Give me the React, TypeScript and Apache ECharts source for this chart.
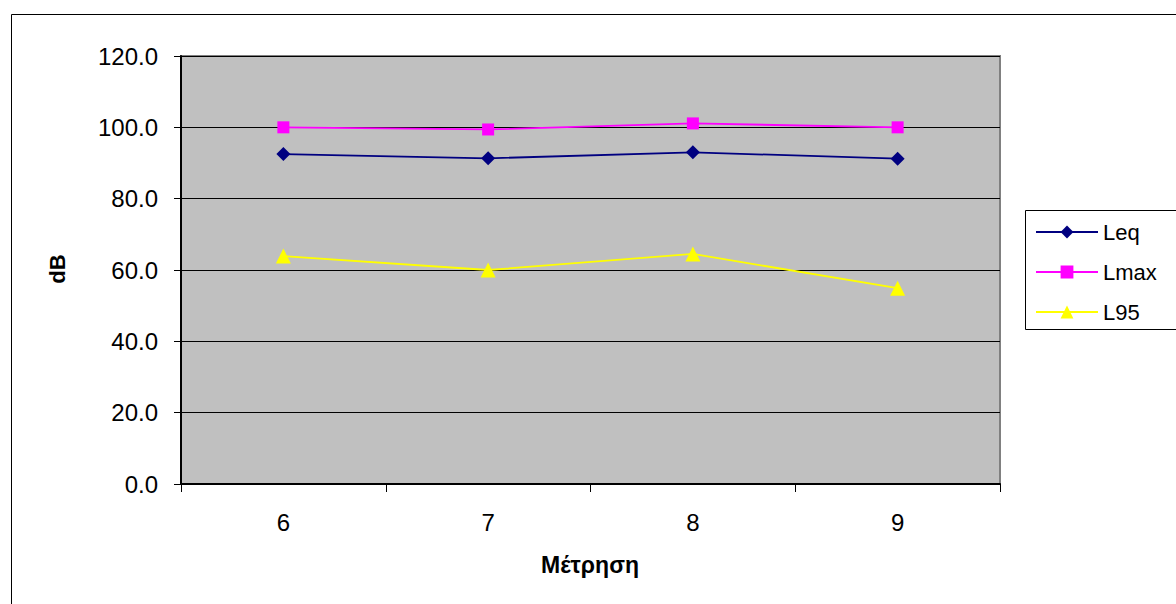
import React, { useEffect, useRef } from "react";
import * as echarts from "echarts";

// Measurement numbers along the x axis
const categories = ["6", "7", "8", "9"];

// Sound levels in dB per measurement
const leq = [92.5, 91.3, 93.0, 91.2];
const lmax = [100.0, 99.4, 101.1, 100.0];
const l95 = [63.9, 60.0, 64.5, 54.9];

const yTicks = { min: 0, max: 120, interval: 20 };

const FONT = "'Liberation Sans', Arial, sans-serif";

export default function App() {
  const ref = useRef<HTMLDivElement>(null);

  useEffect(() => {
    if (!ref.current) return;
    const chart = echarts.init(ref.current, null, { renderer: "svg" });

    const lineSeries = (name: string, data: number[], color: string, symbol: string, size: number) => ({
      name,
      type: "line",
      data,
      symbol,
      symbolSize: size,
      showAllSymbol: true,
      lineStyle: { color, width: 1.8 },
      itemStyle: { color, borderWidth: 0 },
      emphasis: { disabled: true },
    });

    chart.setOption({
      animation: false,
      backgroundColor: "#ffffff",
      textStyle: { fontFamily: FONT },
      grid: {
        left: 181,
        right: 176,
        top: 56,
        bottom: 120,
        show: true,
        backgroundColor: "#c0c0c0",
        borderColor: "#808080",
        borderWidth: 2,
      },
      xAxis: {
        type: "category",
        data: categories,
        boundaryGap: true,
        axisLine: { lineStyle: { color: "#000000", width: 2 } },
        axisTick: { show: true, alignWithLabel: false, length: 8, lineStyle: { color: "#000000", width: 1 } },
        axisLabel: { color: "#000000", fontSize: 24, margin: 26, fontFamily: FONT },
        splitLine: { show: false },
      },
      yAxis: {
        type: "value",
        min: yTicks.min,
        max: yTicks.max,
        interval: yTicks.interval,
        axisLine: { show: true, lineStyle: { color: "#000000", width: 2 } },
        axisTick: { show: true, length: 7, lineStyle: { color: "#000000", width: 1 } },
        axisLabel: {
          color: "#000000",
          fontSize: 24,
          margin: 23,
          fontFamily: FONT,
          formatter: (v: number) => v.toFixed(1),
        },
        splitLine: { show: true, lineStyle: { color: "#000000", width: 1 } },
      },
      legend: {
        orient: "vertical",
        left: 1035,
        top: 221,
        padding: 0,
        itemWidth: 62,
        itemHeight: 16,
        itemGap: 18,
        textStyle: { color: "#000000", fontSize: 22, fontFamily: FONT },
        data: ["Leq", "Lmax", "L95"],
      },
      graphic: [
        {
          type: "rect",
          shape: { x: 11.5, y: 14.5, width: 1300, height: 700 },
          style: { fill: "none", stroke: "#000000", lineWidth: 1 },
          silent: true,
          z: -1,
        },
        {
          type: "rect",
          shape: { x: 1025.5, y: 210.5, width: 200, height: 119 },
          style: { fill: "#ffffff", stroke: "#000000", lineWidth: 1 },
          silent: true,
          z: 0,
        },
        {
          type: "text",
          x: 57,
          y: 269,
          rotation: Math.PI / 2,
          style: {
            text: "dB",
            fontSize: 22,
            fontWeight: "bold",
            fontFamily: FONT,
            fill: "#000000",
            align: "center",
            verticalAlign: "middle",
          },
        },
        {
          type: "text",
          x: 590,
          y: 565,
          style: {
            text: "Μέτρηση",
            fontSize: 23,
            fontWeight: "bold",
            fontFamily: FONT,
            fill: "#000000",
            align: "center",
            verticalAlign: "middle",
          },
        },
      ],
      series: [
        lineSeries("Leq", leq, "#000080", "diamond", 14),
        lineSeries("Lmax", lmax, "#ff00ff", "rect", 12),
        lineSeries("L95", l95, "#ffff00", "triangle", 15),
      ],
    });

    return () => chart.dispose();
  }, []);

  return (
    <div
      ref={ref}
      style={{ position: "fixed", left: 0, top: 0, width: 1176, height: 604 }}
    />
  );
}
